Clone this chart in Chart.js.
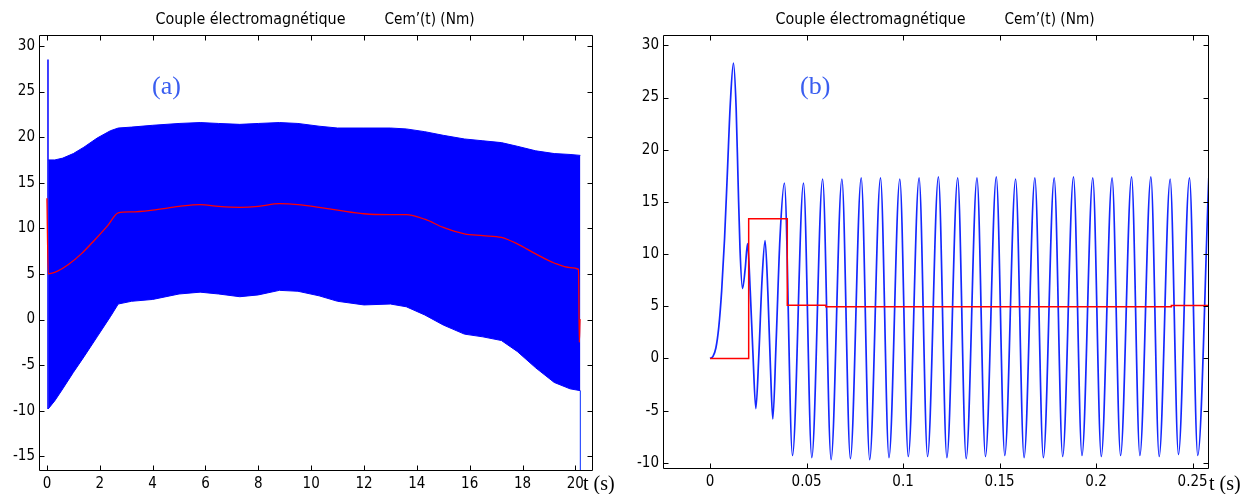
<!DOCTYPE html>
<html>
<head>
<meta charset="utf-8">
<title>Couple électromagnétique</title>
<script src="https://cdn.jsdelivr.net/npm/chart.js@4.4.1/dist/chart.umd.min.js"></script>
<style>
  body { margin: 0; background: #fff; }
  #wrap { position: relative; width: 1256px; height: 494px; }
  canvas { position: absolute; top: 0; }
  #chartA { left: 0; }
  #chartB { left: 628px; }
</style>
</head>
<body>
<div id="wrap">
  <canvas id="chartA" width="628" height="494"></canvas>
  <canvas id="chartB" width="628" height="494"></canvas>
</div>
<script>
// ---- (a) whole run, 0..20 s : envelope of the torque ripple + mean torque
const tA      = [0.05, 0.3, 0.6, 1.0, 1.4, 1.9, 2.4, 2.7, 3.2, 4.0, 5.0, 5.8, 6.5, 7.3, 8.0, 8.8, 9.5, 10.3, 11.0, 12.0, 13.0, 13.6, 14.3, 15.0, 15.8, 16.5, 17.2, 17.8, 18.5, 19.2, 19.8, 20.19];
const upperA  = [17.5, 17.5, 17.7, 18.2, 18.9, 19.9, 20.7, 21.0, 21.1, 21.3, 21.5, 21.6, 21.5, 21.4, 21.5, 21.6, 21.5, 21.2, 21.0, 21.0, 21.0, 20.9, 20.6, 20.2, 19.8, 19.6, 19.4, 19.0, 18.5, 18.2, 18.1, 18.0];
const lowerA  = [-9.8, -8.9, -7.6, -5.8, -4.1, -1.9, 0.3, 1.7, 2.0, 2.2, 2.8, 3.0, 2.8, 2.5, 2.7, 3.2, 3.1, 2.6, 2.0, 1.6, 1.7, 1.4, 0.5, -0.6, -1.6, -1.9, -2.3, -3.5, -5.3, -6.9, -7.6, -7.8];
const tMeanA  = [0, 0.05, 0.4, 0.8, 1.3, 1.8, 2.3, 2.7, 3.2, 4.0, 5.0, 5.8, 6.5, 7.3, 8.0, 8.8, 9.5, 10.3, 11.0, 12.0, 13.0, 13.6, 14.3, 15.0, 15.8, 16.5, 17.2, 17.8, 18.5, 19.2, 19.8, 20.12, 20.15, 20.18, 20.2];
const meanA   = [13.3, 5.0, 5.3, 6.0, 7.2, 8.7, 10.3, 11.7, 11.8, 12.0, 12.4, 12.6, 12.4, 12.3, 12.4, 12.7, 12.6, 12.3, 12.0, 11.6, 11.5, 11.5, 11.0, 10.1, 9.4, 9.2, 9.0, 8.3, 7.2, 6.2, 5.7, 5.5, -2.5, 0, 0];
// start-up spike and end drop (single vertical strokes)
const spikeT  = [0.04, 20.19];
const spikeLo = [-9.8, -7.8];
const spikeHi = [28.5, -17];

// ---- (b) zoom on the first 0.26 s
const tRiseB  = [0, 0.0015, 0.003, 0.0045, 0.006, 0.0075, 0.009, 0.0105, 0.0121, 0.0135, 0.0145, 0.0155, 0.0168, 0.0182, 0.0194, 0.0208, 0.0222, 0.0237, 0.0253, 0.0269, 0.0285, 0.0300, 0.0313, 0.0325, 0.0342, 0.0362];
const vRiseB  = [0, 0.2, 1.0, 3.0, 6.5, 11.5, 18, 24.5, 28.3, 24, 17, 10.5, 6.7, 8.6, 11.0, 6.5, 0.5, -4.8, 0.5, 7.5, 11.3, 6.0, -1.0, -5.8, 1.5, 11.5];
const peakT   = [0.0385, 0.0484, 0.0583, 0.0683, 0.0783, 0.0883, 0.0983, 0.1083, 0.1183, 0.1283, 0.1383, 0.1483, 0.1583, 0.1683, 0.1783, 0.1883, 0.1983, 0.2083, 0.2184, 0.2284, 0.2384, 0.2484, 0.2584];
const peakV   = [16.8, 16.8, 17.2, 17.2, 17.3, 17.3, 17.2, 17.3, 17.4, 17.3, 17.3, 17.4, 17.2, 17.3, 17.3, 17.4, 17.3, 17.3, 17.4, 17.4, 17.2, 17.3, 17.3];
const troughT = [0.0427, 0.0527, 0.0627, 0.0727, 0.0827, 0.0927, 0.1027, 0.1127, 0.1227, 0.1327, 0.1427, 0.1527, 0.1627, 0.1727, 0.1827, 0.1927, 0.2027, 0.2127, 0.2227, 0.2327, 0.2427, 0.2527];
const troughV = [-9.3, -9.5, -9.7, -9.6, -9.7, -9.5, -9.4, -9.4, -9.5, -9.6, -9.4, -9.3, -9.5, -9.5, -9.4, -9.3, -9.4, -9.3, -9.3, -9.4, -9.2, -9.3];
const stepT   = [0, 0.02, 0.04, 0.06, 0.239, 0.258];
const stepV   = [0, 13.4, 5.1, 4.95, 5.08, 5.08];

// tick labels
const ticksAx = [0, 2, 4, 6, 8, 10, 12, 14, 16, 18, 20];
const ticksAy = [-15, -10, -5, 0, 5, 10, 15, 20, 25, 30];
const ticksBx = [0, 0.05, 0.1, 0.15, 0.2, 0.25];
const ticksBy = [-10, -5, 0, 5, 10, 15, 20, 25, 30];

const SANS  = "'Liberation Sans Narrow', 'DejaVu Sans Condensed', 'Arial Narrow', 'Liberation Sans', Arial, sans-serif";
const SERIF = "'Liberation Serif', 'Times New Roman', 'DejaVu Serif', serif";
const BLUE = '#0000ff';
const RED = '#ff0000';

const pts = (xs, ys) => xs.map((x, i) => ({ x: x, y: ys[i] }));

const waveB = pts(tRiseB, vRiseB);
peakT.forEach((t, k) => {
    waveB.push({ x: t, y: peakV[k] });
    if (k < troughT.length) waveB.push({ x: troughT[k], y: troughV[k] });
});

// box with inward ticks on all four sides + texts (title, panel tag, "t (s)")
const frame = {
    id: 'frame',
    afterDatasetsDraw(chart, args, o) {
        const { ctx, chartArea: a, scales: { x, y } } = chart;
        ctx.save();
        ctx.strokeStyle = '#000';
        ctx.lineWidth = 1;
        const L = Math.round(a.left) + 0.5, R = Math.round(a.right) + 0.5;
        const T = Math.round(a.top) + 0.5, B = Math.round(a.bottom) + 0.5;
        ctx.beginPath();
        ctx.rect(L, T, R - L, B - T);
        o.xt.forEach(v => {
            const p = Math.round(x.getPixelForValue(v)) + 0.5;
            ctx.moveTo(p, B); ctx.lineTo(p, B - 5);
            ctx.moveTo(p, T); ctx.lineTo(p, T + 5);
        });
        o.yt.forEach(v => {
            const p = Math.round(y.getPixelForValue(v)) + 0.5;
            ctx.moveTo(L, p); ctx.lineTo(L + 5, p);
            ctx.moveTo(R, p); ctx.lineTo(R - 5, p);
        });
        ctx.stroke();

        // title, two pieces squeezed to the measured widths
        const mid = (a.left + a.right) / 2;
        ctx.fillStyle = '#000';
        ctx.textBaseline = 'alphabetic';
        ctx.font = '16px ' + SANS;
        [['Couple électromagnétique', mid - 160, 190], ['Cem\u2019(t) (Nm)', mid + 69, 90]].forEach(([s, x0, w]) => {
            const m = ctx.measureText(s).width;
            ctx.save();
            ctx.translate(x0, 24);
            ctx.scale(w / m, 1);
            ctx.fillText(s, 0, 0);
            ctx.restore();
        });

        ctx.font = '26px ' + SERIF;
        ctx.fillStyle = '#3a5ef0';
        ctx.fillText(o.tag, a.left + o.tagDx, 94);

        ctx.font = '20px ' + SERIF;
        ctx.fillStyle = '#000';
        ctx.fillText('t (s)', a.right + o.tDx, 490);
        ctx.restore();
    }
};

function scale(min, max, step, size, isX, fmt) {
    return {
        type: 'linear',
        min: min,
        max: max,
        grid: { display: false, drawTicks: false },
        border: { display: false },
        ticks: {
            stepSize: step,
            includeBounds: false,
            autoSkip: false,
            maxRotation: 0,
            padding: isX ? 5 : 4,
            color: '#000',
            font: { family: SANS, size: 15 },
            callback: fmt
        },
        afterFit: s => { if (isX) s.height = size; else s.width = size; }
    };
}

const intFmt = v => String(Math.round(v));
const decFmt = v => String(Math.round(v * 100) / 100);

Chart.defaults.font.family = SANS;

// (a)
new Chart(document.getElementById('chartA'), {
    type: 'line',
    data: {
        datasets: [
            { data: pts(tMeanA, meanA), borderColor: RED, borderWidth: 1.3, cubicInterpolationMode: 'monotone', fill: false },
            { data: pts(tA, lowerA), borderColor: BLUE, borderWidth: 1, fill: false },
            { data: pts(tA, upperA), borderColor: BLUE, borderWidth: 1, backgroundColor: BLUE, fill: 1 },
            { data: [{ x: spikeT[0], y: spikeLo[0] }, { x: spikeT[0], y: spikeHi[0] }], borderColor: BLUE, borderWidth: 1.5, fill: false },
            { data: [{ x: spikeT[1], y: spikeLo[1] }, { x: spikeT[1], y: spikeHi[1] }], borderColor: '#3050ff', borderWidth: 1.2, fill: false }
        ]
    },
    options: {
        responsive: false,
        animation: false,
        devicePixelRatio: 1,
        layout: { padding: { left: 0, right: 36, top: 35, bottom: 0 } },
        elements: { point: { radius: 0 } },
        plugins: {
            legend: { display: false },
            tooltip: { enabled: false },
            frame: { xt: ticksAx, yt: ticksAy, tag: '(a)', tagDx: 113, tDx: -9 }
        },
        scales: {
            x: scale(-0.3, 20.63, 2, 24, true, intFmt),
            y: scale(-16.5, 31.2, 5, 39, false, intFmt)
        }
    },
    plugins: [frame]
});

// (b)
new Chart(document.getElementById('chartB'), {
    type: 'line',
    data: {
        datasets: [
            { data: pts(stepT, stepV), borderColor: RED, borderWidth: 1.5, stepped: 'before', fill: false },
            { data: waveB, borderColor: '#1428ff', borderWidth: 1.7, cubicInterpolationMode: 'monotone', fill: false }
        ]
    },
    options: {
        responsive: false,
        animation: false,
        devicePixelRatio: 1,
        layout: { padding: { left: 0, right: 48, top: 35, bottom: 0 } },
        elements: { point: { radius: 0 } },
        plugins: {
            legend: { display: false },
            tooltip: { enabled: false },
            frame: { xt: ticksBx, yt: ticksBy, tag: '(b)', tagDx: 137, tDx: 1 }
        },
        scales: {
            x: scale(-0.0244, 0.258, 0.05, 26, true, decFmt),
            y: scale(-10.5, 31, 5, 35, false, intFmt)
        }
    },
    plugins: [frame]
});
</script>
</body>
</html>
